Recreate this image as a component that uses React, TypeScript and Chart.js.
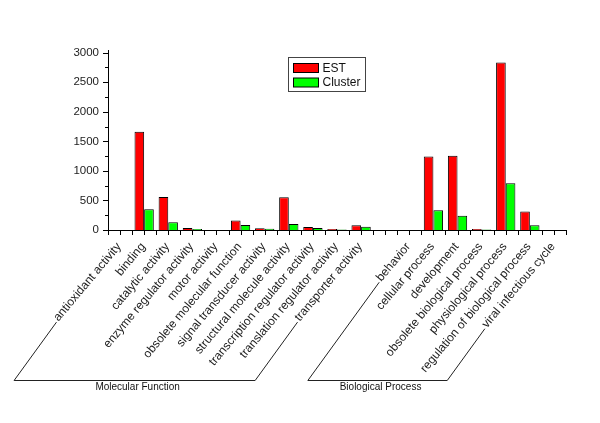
import React, { useEffect, useRef } from 'react';
import { Chart, registerables } from 'chart.js';

Chart.register(...registerables);

const categories = [
  'antioxidant activity',
  'binding',
  'catalytic activity',
  'enzyme regulator activity',
  'motor activity',
  'obsolete molecular function',
  'signal transducer activity',
  'structural molecule activity',
  'transcription regulator activity',
  'translation regulator activity',
  'transporter activity',
  '',
  'behavior',
  'cellular process',
  'development',
  'obsolete biological process',
  'physiological process',
  'regulation of biological process',
  'viral infectious cycle',
];
const estValues = [0, 1660, 560, 35, 0, 160, 30, 555, 50, 15, 80, null, 0, 1245, 1255, 15, 2835, 315, 0];
const clusterValues = [0, 350, 130, 15, 0, 85, 20, 100, 35, 10, 55, null, 0, 335, 240, 8, 790, 80, 0];
const seriesNames = ['EST', 'Cluster'];
const seriesColors = ['#ff0000', '#00ff00'];
const yMajorTicks = [0, 500, 1000, 1500, 2000, 2500, 3000];
const yMinorStep = 250;
const groupNames = ['Molecular Function', 'Biological Process'];
const groupFirst = [0, 12];
const groupLast = [10, 18];

const FONT_FAMILY = '"Liberation Sans", Arial, Helvetica, sans-serif';
const LABEL_ROT = 50;
const BRACKET_ANGLE = 54;

const decorPlugin = {
  id: 'decor',
  afterDraw(chart: any) {
    const ctx = chart.ctx as CanvasRenderingContext2D;
    const area = chart.chartArea;
    const xs = chart.scales.x;
    const ys = chart.scales.y;
    ctx.save();
    ctx.strokeStyle = '#000';
    ctx.lineWidth = 1;
    // y ticks
    const yMax = yMajorTicks[yMajorTicks.length - 1];
    for (let v = 0; v <= yMax; v += yMinorStep) {
      const py = Math.round(ys.getPixelForValue(v)) + 0.5;
      const len = v % 500 === 0 ? 5 : 3;
      ctx.beginPath();
      ctx.moveTo(area.left - len, py);
      ctx.lineTo(area.left, py);
      ctx.stroke();
    }
    // x ticks at every half category
    const n = categories.length;
    const step = xs.getPixelForValue(1) - xs.getPixelForValue(0);
    for (let i = 0; i <= 2 * n; i++) {
      const px = Math.round(xs.getPixelForValue(0) - step / 2 + (i * step) / 2) + 0.5;
      ctx.beginPath();
      ctx.moveTo(px, area.bottom);
      ctx.lineTo(px, area.bottom + 5);
      ctx.stroke();
    }

    // group brackets
    const items = xs.getLabelItems();
    const r = (LABEL_ROT * Math.PI) / 180;
    const b = (BRACKET_ANGLE * Math.PI) / 180;
    const startOf = (i: number) => {
      const it = items[i];
      ctx.font = it.font.string;
      const w = ctx.measureText(String(it.label)).width;
      const [tx, ty] = it.options.translation;
      const sx = tx - w * Math.cos(r);
      const sy = ty + w * Math.sin(r);
      return [sx + 6, sy + 7];
    };
    const bottomY = area.bottom + 150.5;
    ctx.strokeStyle = '#222';
    for (let gi = 0; gi < groupNames.length; gi++) {
      const tl = startOf(groupFirst[gi]);
      const tr = startOf(groupLast[gi]);
      const blx = tl[0] - (bottomY - tl[1]) / Math.tan(b);
      const brx = tr[0] - (bottomY - tr[1]) / Math.tan(b);
      ctx.beginPath();
      ctx.moveTo(tl[0], tl[1]);
      ctx.lineTo(blx, bottomY);
      ctx.lineTo(brx, bottomY);
      ctx.lineTo(tr[0], tr[1]);
      ctx.stroke();
      ctx.fillStyle = '#111';
      ctx.font = '10px ' + FONT_FAMILY;
      ctx.textAlign = 'center';
      ctx.textBaseline = 'top';
      ctx.fillText(groupNames[gi], (blx + brx) / 2 + 3, bottomY + 1.5);
    }

    // legend
    const lx = Math.round(area.left + 0.392 * (area.right - area.left)) + 0.5;
    const ly = Math.round(ys.getPixelForValue(2920)) + 0.5;
    const lw = 77;
    const lh = 34;
    ctx.strokeStyle = '#444';
    ctx.strokeRect(lx, ly, lw, lh);
    ctx.font = '12px ' + FONT_FAMILY;
    ctx.textAlign = 'left';
    ctx.textBaseline = 'middle';
    for (let k = 0; k < seriesNames.length; k++) {
      const sy = ly + 6 + k * 14.5;
      ctx.fillStyle = seriesColors[k];
      ctx.fillRect(lx + 5, sy, 25, 9);
      ctx.strokeStyle = '#000';
      ctx.strokeRect(lx + 5, sy, 25, 9);
      ctx.fillStyle = '#111';
      ctx.fillText(seriesNames[k], lx + 34, sy + 5);
    }
    ctx.restore();
  },
};

export default function App() {
  const ref = useRef<HTMLCanvasElement | null>(null);
  useEffect(() => {
    if (!ref.current) return;
    const chart = new Chart(ref.current, {
      type: 'bar',
      data: {
        labels: categories,
        datasets: [
          {
            label: seriesNames[0],
            data: estValues,
            backgroundColor: seriesColors[0],
            borderColor: '#000',
            borderWidth: 1,
            categoryPercentage: 0.8,
            barPercentage: 1,
          },
          {
            label: seriesNames[1],
            data: clusterValues,
            backgroundColor: seriesColors[1],
            borderColor: '#000',
            borderWidth: 1,
            categoryPercentage: 0.8,
            barPercentage: 1,
          },
        ],
      },
      options: {
        animation: false,
        responsive: false,
        devicePixelRatio: 1,
        layout: { padding: { left: 0, right: 34, top: 50, bottom: 0 } },
        plugins: {
          legend: { display: false },
          tooltip: { enabled: false },
          title: { display: false },
        },
        scales: {
          x: {
            type: 'category',
            offset: true,
            grid: { display: false, drawTicks: false },
            border: { display: true, color: '#000', width: 1 },
            ticks: {
              autoSkip: false,
              minRotation: LABEL_ROT,
              maxRotation: LABEL_ROT,
              padding: 10,
              labelOffset: -1,
              color: '#222',
              font: { family: FONT_FAMILY, size: 12 },
            },
            afterFit: (s: any) => {
              s.height = 193;
            },
          },
          y: {
            min: 0,
            max: 3045,
            grid: { display: false, drawTicks: false },
            border: { display: true, color: '#000', width: 1 },
            ticks: {
              padding: 9,
              color: '#222',
              font: { family: FONT_FAMILY, size: 11.5 },
              callback: (v: any) => String(v),
            },
            afterBuildTicks: (s: any) => {
              s.ticks = yMajorTicks.map((v) => ({ value: v }));
            },
            afterFit: (s: any) => {
              s.width = 108;
            },
          },
        },
      },
      plugins: [decorPlugin],
    });
    return () => chart.destroy();
  }, []);
  return (
    <div style={{ position: 'fixed', left: 0, top: 0, width: 600, height: 423, background: '#fff' }}>
      <canvas ref={ref} width={600} height={423} style={{ width: 600, height: 423 }} />
    </div>
  );
}
